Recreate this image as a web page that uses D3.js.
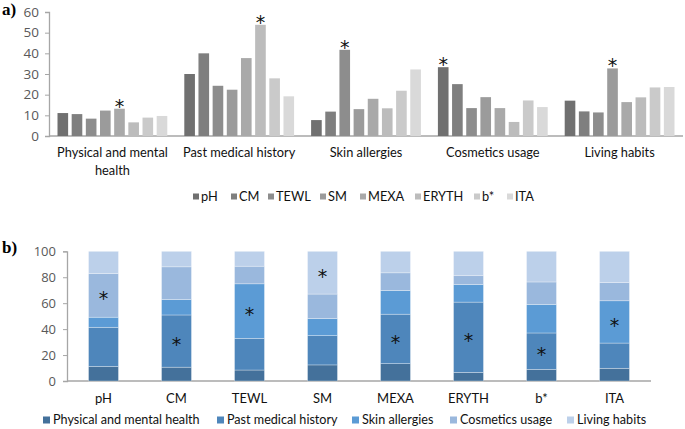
<!DOCTYPE html>
<html><head><meta charset="utf-8">
<script src="https://cdn.jsdelivr.net/npm/d3@7"></script>
<style>
body{margin:0;background:#fff;}
svg{display:block;font-family:"Open Sans",sans-serif;}
</style></head>
<body><svg id="c" width="685" height="429"></svg>
<script>
// Categories (panel a groups / panel b stacks)
const factors = ["Physical and mental health","Past medical history","Skin allergies","Cosmetics usage","Living habits"];
const measures = ["pH","CM","TEWL","SM","MEXA","ERYTH","b*","ITA"];
// Panel a values: one array per measure, over factors
const pH    = [11.1, 30.0,  7.7, 33.3, 17.1];
const CM    = [10.6, 40.0, 11.8, 25.1, 11.9];
const TEWL  = [ 8.4, 24.3, 41.7, 13.5, 11.4];
const SM    = [12.3, 22.4, 13.0, 18.8, 32.7];
const MEXA  = [13.2, 37.7, 18.0, 13.5, 16.4];
const ERYTH = [ 6.6, 53.8, 13.4,  6.8, 18.7];
const bStar = [ 8.9, 27.9, 21.9, 17.2, 23.5];
const ITA   = [ 9.7, 19.2, 32.2, 14.0, 23.7];
const seriesA = [pH, CM, TEWL, SM, MEXA, ERYTH, bStar, ITA];
// asterisks in panel a: [factor index, measure index]
const starsA = [[0,4],[1,5],[2,2],[3,0],[4,3]];
// asterisks in panel b: [measure index, factor segment]
const starsB = [[0,3],[1,1],[2,2],[3,4],[4,1],[5,1],[6,1],[7,2]];
const ticksA = [0,10,20,30,40,50,60];
const ticksB = [0,20,40,60,80,100];

const grays = ["#707070","#7f7f7f","#8d8d8d","#9b9b9b","#a9a9a9","#bcbcbc","#cacaca","#d9d9d9"];
const blues = ["#44719b","#4e86bb","#5b9bd5","#9ab8dd","#bcd0ea"];
const axisCol = "#a6a6a6", tickCol = "#595959";

const svg = d3.select("#c");

// ---------- Panel a ----------
const ax0 = 49, ax1 = 683, ay0 = 136, ay1 = 12;
const x0 = d3.scaleBand().domain(factors).range([ax0, ax1]).paddingInner(0).paddingOuter(0);
const x1 = d3.scaleBand().domain(measures).range([0, x0.bandwidth()]).paddingInner(0.25).paddingOuter(0.6);
const ya = d3.scaleLinear().domain([0,60]).range([ay0, ay1]);

const ga = svg.append("g");
ga.append("g").attr("transform",`translate(${ax0},0)`)
  .call(d3.axisLeft(ya).tickValues(ticksA).tickSize(4).tickPadding(6))
  .call(g=>{g.select(".domain").attr("stroke",axisCol).attr("stroke-width",1.3);
            g.selectAll(".tick line").attr("stroke",axisCol);
            g.selectAll("text").attr("fill",tickCol).attr("font-size",13.5).attr("font-family","Open Sans");});
ga.append("line").attr("x1",ax0).attr("x2",ax1).attr("y1",ay0).attr("y2",ay0).attr("stroke",axisCol).attr("stroke-width",1.3);

const groups = ga.selectAll("g.grp").data(factors).join("g").attr("class","grp")
  .attr("transform",d=>`translate(${x0(d)},0)`);
groups.selectAll("rect").data((f,i)=>measures.map((m,j)=>({m,j,v:seriesA[j][i]}))).join("rect")
  .attr("x",d=>x1(d.m)).attr("width",x1.bandwidth())
  .attr("y",d=>ya(d.v)).attr("height",d=>ay0-ya(d.v))
  .attr("fill",d=>grays[d.j]);
ga.selectAll("text.star").data(starsA).join("text").attr("class","star")
  .attr("x",d=>x0(factors[d[0]])+x1(measures[d[1]])+x1.bandwidth()/2)
  .attr("y",d=>ya(seriesA[d[1]][d[0]])+4)
  .attr("text-anchor","middle").attr("font-size",19).attr("font-family","DejaVu Sans").attr("fill","#111").text("*");

// category labels
const labA = ga.selectAll("text.cat").data(factors).join("text").attr("class","cat")
  .attr("x",d=>x0(d)+x0.bandwidth()/2).attr("y",157)
  .attr("text-anchor","middle").attr("font-size",12.8).attr("font-family","Lato").attr("fill","#111");
labA.each(function(d){
  const t=d3.select(this);
  if(d==="Physical and mental health"){
    t.append("tspan").attr("x",x0(d)+x0.bandwidth()/2).text("Physical and mental");
    t.append("tspan").attr("x",x0(d)+x0.bandwidth()/2).attr("dy",18).text("health");
  } else t.text(d);
});

// legend a
const legA = [193,231,268,320,360,415,474,507];
const lg = ga.selectAll("g.lega").data(measures).join("g").attr("class","lega")
  .attr("transform",(d,i)=>`translate(${legA[i]},197)`);
lg.append("rect").attr("x",0).attr("y",-3.5).attr("width",6).attr("height",6).attr("fill",(d,i)=>grays[i]);
lg.append("text").attr("x",8).attr("y",0).attr("dy","0.35em").attr("font-size",12.8).attr("font-family","Lato").attr("fill","#111").text(d=>d);

svg.append("text").attr("x",2).attr("y",15).attr("font-family","Liberation Serif").attr("font-weight","bold").attr("font-size",17).text("a)");

// ---------- Panel b ----------
const bx0 = 67, bx1 = 651, by0 = 381, by1 = 251.3;
const xb = d3.scaleBand().domain(measures).range([bx0,bx1]).paddingInner(0.59).paddingOuter(0.295);
const yb = d3.scaleLinear().domain([0,1]).range([by0,by1]);
const rows = measures.map((m,j)=>{const o={m}; factors.forEach((f,i)=>o[f]=seriesA[j][i]); return o;});
const stack = d3.stack().keys(factors).offset(d3.stackOffsetExpand)(rows);

const gb = svg.append("g");
const yAxisB = d3.scaleLinear().domain([0,100]).range([by0,by1]);
gb.append("g").attr("transform",`translate(${bx0},0)`)
  .call(d3.axisLeft(yAxisB).tickValues(ticksB).tickSize(4).tickPadding(7))
  .call(g=>{g.select(".domain").attr("stroke",axisCol).attr("stroke-width",1.3);
            g.selectAll(".tick line").attr("stroke",axisCol);
            g.selectAll("text").attr("fill",tickCol).attr("font-size",13).attr("font-family","Open Sans");});
gb.append("line").attr("x1",bx0).attr("x2",bx1).attr("y1",by0).attr("y2",by0).attr("stroke",axisCol).attr("stroke-width",1.3);

gb.selectAll("g.layer").data(stack).join("g").attr("class","layer").attr("fill",(d,i)=>blues[i])
  .selectAll("rect").data(d=>d).join("rect")
  .attr("x",d=>xb(d.data.m)).attr("width",xb.bandwidth())
  .attr("y",d=>yb(d[1])).attr("height",d=>yb(d[0])-yb(d[1]))
  .attr("stroke","#ffffff").attr("stroke-width",0.6).attr("stroke-opacity",0.5);

gb.selectAll("text.starb").data(starsB).join("text").attr("class","starb")
  .attr("x",d=>xb(measures[d[0]])+xb.bandwidth()/2)
  .attr("y",d=>{const s=stack[d[1]][d[0]]; return yb((s[0]+s[1])/2)+10;})
  .attr("text-anchor","middle").attr("font-size",19).attr("font-family","DejaVu Sans").attr("fill","#111").text("*");

gb.selectAll("text.catb").data(measures).join("text").attr("class","catb")
  .attr("x",d=>xb(d)+xb.bandwidth()/2).attr("y",398).attr("dy","0.35em")
  .attr("text-anchor","middle").attr("font-size",13).attr("font-family","Lato").attr("fill","#111").text(d=>d);

const legB = [43,217,352,450,567];
const lgb = gb.selectAll("g.legb").data(factors).join("g").attr("class","legb")
  .attr("transform",(d,i)=>`translate(${legB[i]},420)`);
lgb.append("rect").attr("x",0).attr("y",-3.5).attr("width",7).attr("height",7).attr("fill",(d,i)=>blues[i]);
lgb.append("text").attr("x",10).attr("y",0).attr("dy","0.35em").attr("font-size",12.6).attr("font-family","Lato").attr("fill","#111").text(d=>d);

svg.append("text").attr("x",2).attr("y",253).attr("font-family","Liberation Serif").attr("font-weight","bold").attr("font-size",17).text("b)");
</script></body></html>
